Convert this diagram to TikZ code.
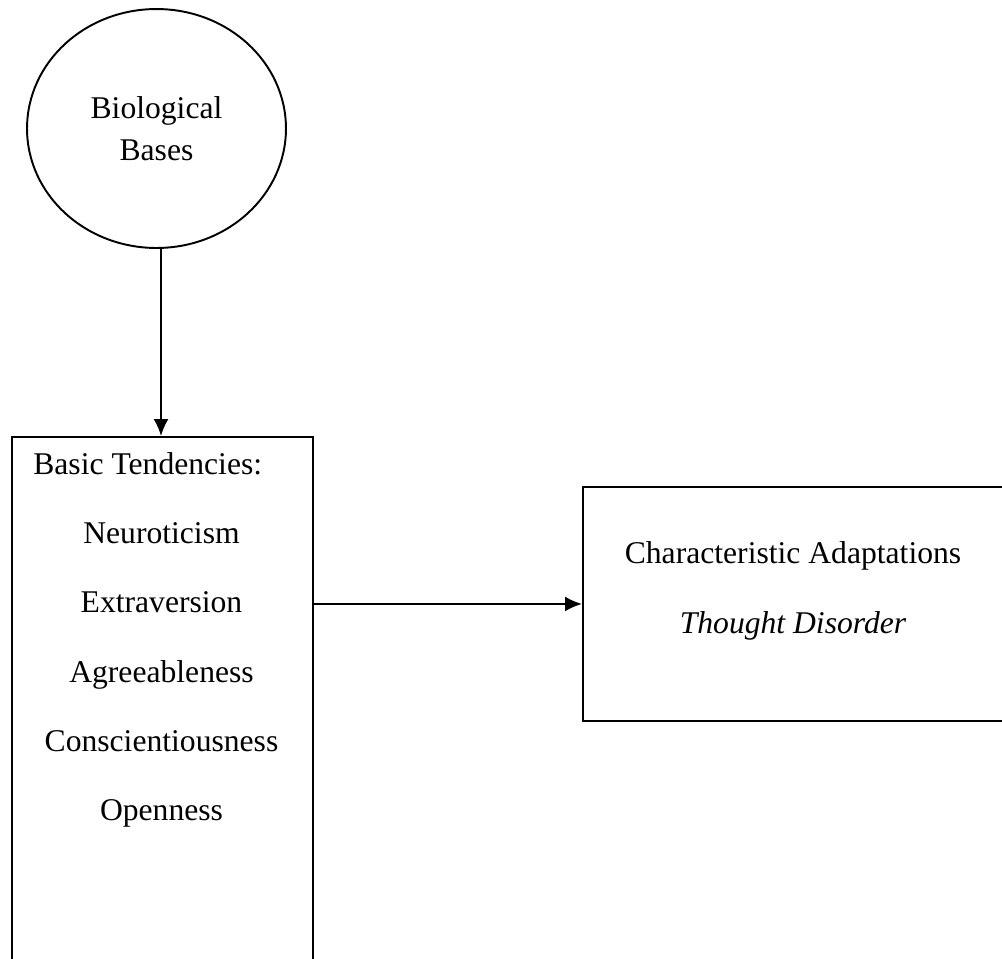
\documentclass[tikz,border=0pt]{standalone}
\usepackage{fontspec}
\setmainfont{Liberation Serif}
\usetikzlibrary{shapes.geometric,arrows.meta}
\tikzset{
  trait/.style={anchor=base,font=\fontsize{18}{24}\selectfont},
  frame/.style={draw,line width=1.1pt,inner sep=0pt},
  link/.style={line width=1.1pt,-{Latex[length=0.34cm,width=0.3cm]}}
}
\begin{document}
\begin{tikzpicture}[x=0.02cm,y=-0.02cm]
\clip (0,0) rectangle (1002,958);
% biological bases
\node[frame,ellipse,minimum width=5.18cm,minimum height=4.78cm,align=center,
  font=\fontsize{18}{23.9}\selectfont] (bio) at (156.5,128.5) {Biological\\Bases};
% basic tendencies (runs off the bottom)
\node[frame,rectangle,anchor=north west,minimum width=6.02cm,minimum height=12cm] (tend) at (11,436) {};
\node[trait,anchor=base west,inner sep=0pt] (bt) at (33,474) {Basic Tendencies:};
\foreach \name/\y in {Neuroticism/543,Extraversion/612,Agreeableness/682,Conscientiousness/751,Openness/820}
{
    \node[trait] (\name) at (161.5,\y) {\name};
}
% characteristic adaptations (runs off the right)
\node[frame,rectangle,anchor=north west,minimum width=8.44cm,minimum height=4.68cm] (ca) at (582,486) {};
\node[trait] (catitle) at (793,563) {Characteristic Adaptations};
\node[trait] (thought) at (793,633) {\itshape Thought Disorder};
\draw[link] ([xshift=0.09cm]bio.south) -- ([xshift=0.09cm]bio.south |- tend.north);
\draw[link] (tend.east |- ca.west) -- (ca.west);
\end{tikzpicture}
\end{document}
